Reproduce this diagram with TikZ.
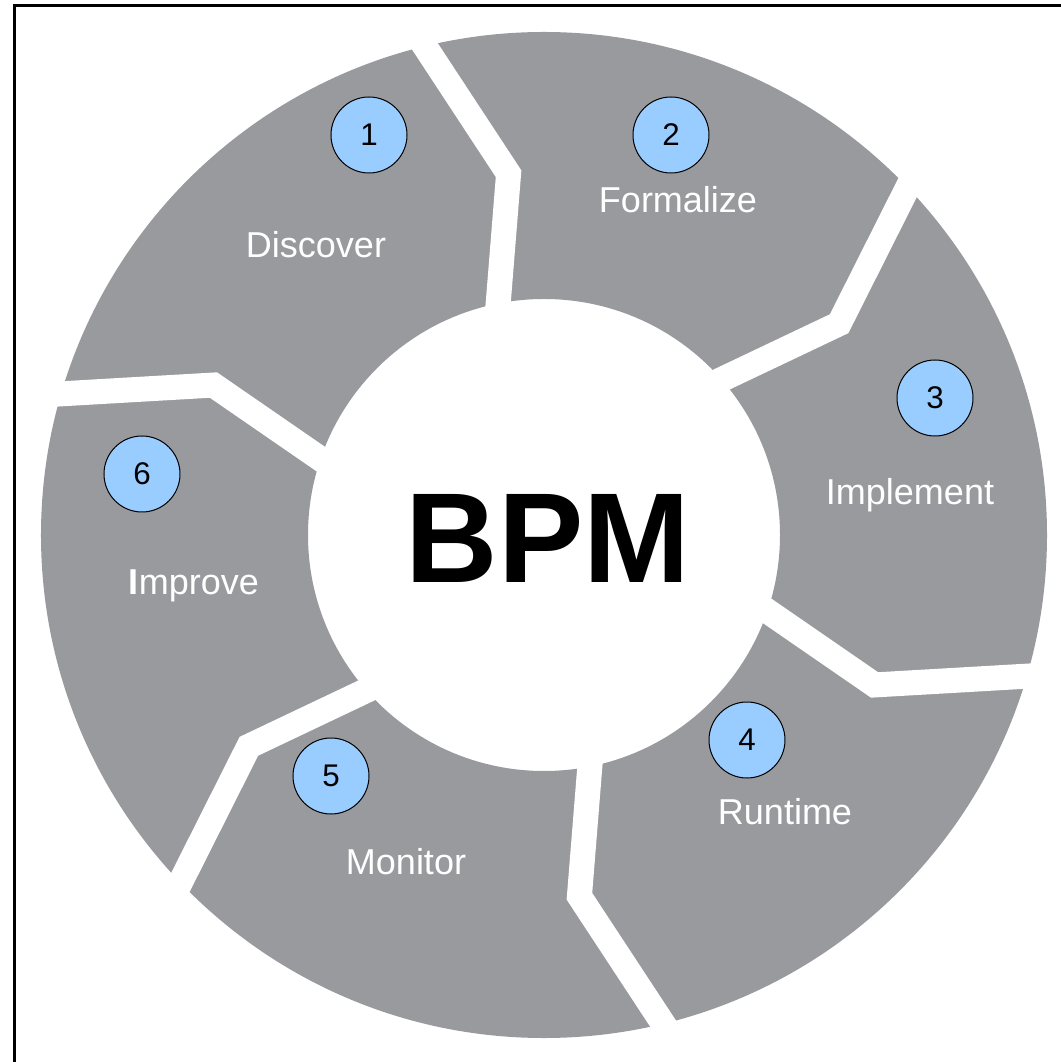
\documentclass[tikz,border=0pt]{standalone}
\usepackage{fontspec}
\setmainfont{Liberation Sans}
\usetikzlibrary{calc}
\definecolor{ringgray}{RGB}{153,154,158}
\definecolor{numblue}{RGB}{153,204,255}
\begin{document}
\begin{tikzpicture}[x=0.75pt,y=0.75pt,
  gap/.style={white, line width=18.75pt, line join=miter, line cap=butt},
  numcircle/.style={circle, draw=black, line width=0.75pt, fill=numblue, minimum size=57pt, inner sep=0pt, font=\fontsize{23.5}{23.5}\selectfont},
  stagelabel/.style={text=white, anchor=base, inner sep=0pt, font=\fontsize{27}{27}\selectfont}]
\useasboundingbox (-544,-527) rectangle (516,535);
\draw[line width=2.25pt] (-529,-540) -- (-529,529.5) -- (530,529.5);
\fill[ringgray, even odd rule] (0,0) circle[radius=503] (0,0) circle[radius=236];
\foreach \t [count=\i] in {100,40,-20,-80,-140,160} {
  \coordinate (gi\i) at ({\t+1.2}:236);
  \coordinate (gk\i) at ({\t-4.4}:363);
  \coordinate (go\i) at ({\t+3.7}:503);
  \draw[gap] ($(gk\i)!1.25!(gi\i)$) -- (gk\i) -- ($(gk\i)!1.15!(go\i)$);
}
\node[font=\bfseries\fontsize{96}{96}\selectfont, anchor=base, inner sep=0pt] (bpm) at (4,-48) {BPM};
\node[stagelabel] (discover) at (-228,277) {Discover};
\node[stagelabel] (formalize) at (134,322) {Formalize};
\node[stagelabel] (implement) at (366,30) {Implement};
\node[stagelabel] (runtime) at (241,-289) {Runtime};
\node[stagelabel] (monitor) at (-138,-339) {Monitor};
\node[stagelabel] (improve) at (-350,-60) {{\bfseries I}mprove};
\node[numcircle] (n1) at (-175,400) {1};
\node[numcircle] (n2) at (127,400) {2};
\node[numcircle] (n3) at (391,137) {3};
\node[numcircle] (n4) at (203,-205) {4};
\node[numcircle] (n5) at (-213,-241) {5};
\node[numcircle] (n6) at (-402,61) {6};
\end{tikzpicture}
\end{document}
